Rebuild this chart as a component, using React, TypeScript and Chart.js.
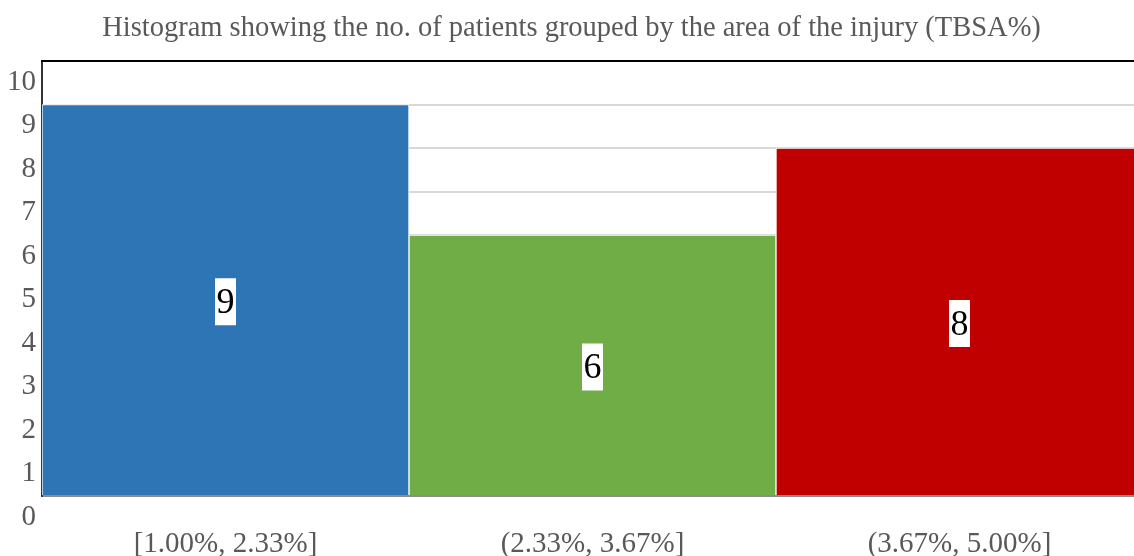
import React, { useEffect, useRef } from "react";
import { Chart, registerables } from "chart.js";

Chart.register(...registerables);

const categories = ["[1.00%, 2.33%]", "(2.33%, 3.67%]", "(3.67%, 5.00%]"];
const counts = [9, 6, 8];
const barColors = ["#2e75b6", "#70ad47", "#c00000"];
const titleText = "Histogram showing the no. of patients grouped by the area of the injury (TBSA%)";
const yMin = 0;
const yMax = 10;

const FONT = "'Liberation Serif', 'Times New Roman', serif";

const barLabelPlugin = {
  id: "barLabels",
  afterDatasetsDraw(chart: any) {
    const ctx = chart.ctx;
    const meta = chart.getDatasetMeta(0);
    ctx.save();
    ctx.font = `36px ${FONT}`;
    ctx.textAlign = "center";
    ctx.textBaseline = "middle";
    meta.data.forEach((bar: any, i: number) => {
      const v = chart.data.datasets[0].data[i];
      const txt = String(v);
      const cx = bar.x;
      const cy = (bar.y + bar.base) / 2 + 2;
      const w = ctx.measureText(txt).width + 3;
      const h = 47;
      ctx.fillStyle = "#ffffff";
      ctx.fillRect(cx - w / 2, cy - h / 2, w, h);
      ctx.fillStyle = "#000000";
      ctx.fillText(txt, cx, cy + 2);
    });
    ctx.restore();
  },
};

const frameLinePlugin = {
  id: "frameLine",
  afterDraw(chart: any) {
    const { ctx, chartArea } = chart;
    ctx.save();
    ctx.strokeStyle = "#000000";
    ctx.lineWidth = 2;
    ctx.beginPath();
    ctx.moveTo(chartArea.left - 1, chartArea.top);
    ctx.lineTo(chartArea.right, chartArea.top);
    ctx.stroke();
    ctx.restore();
  },
};

export default function App() {
  const ref = useRef<HTMLCanvasElement | null>(null);
  useEffect(() => {
    if (!ref.current) return;
    const chart = new Chart(ref.current, {
      type: "bar",
      data: {
        labels: categories,
        datasets: [
          {
            data: counts,
            backgroundColor: barColors,
            borderColor: "#ffffff",
            borderWidth: 1,
            categoryPercentage: 1,
            barPercentage: 1,
          },
        ],
      },
      options: {
        responsive: false,
        animation: false,
        layout: { padding: 0 },
        plugins: {
          legend: { display: false },
          tooltip: { enabled: false },
          title: {
            display: true,
            text: titleText,
            color: "#595959",
            font: { family: FONT, size: 28.5, weight: "normal" },
            padding: { top: 11, bottom: 15.8 },
          },
        },
        scales: {
          x: {
            grid: { display: false, drawTicks: false },
            border: { display: true, color: "#8c8c8c", width: 2 },
            ticks: {
              color: "#595959",
              font: { family: FONT, size: 29 },
              padding: 31,
              maxRotation: 0,
            },
            afterFit(scale: any) {
              scale.height = 60;
            },
          },
          y: {
            min: yMin,
            max: yMax,
            grid: { color: "#d9d9d9", lineWidth: 2, drawTicks: false },
            border: { display: true, color: "#333333", width: 2 },
            ticks: {
              stepSize: 1,
              color: "#595959",
              font: { family: FONT, size: 29 },
              padding: 6,
              labelOffset: 21,
            },
            afterFit(scale: any) {
              scale.width = 42;
            },
          },
        },
      },
      plugins: [barLabelPlugin, frameLinePlugin],
    });
    return () => chart.destroy();
  }, []);
  return (
    <div style={{ position: "fixed", left: 0, top: 0, width: 1134, height: 556, background: "#ffffff", overflow: "hidden" }}>
      <canvas ref={ref} width={1143} height={556} style={{ display: "block" }} />
    </div>
  );
}
